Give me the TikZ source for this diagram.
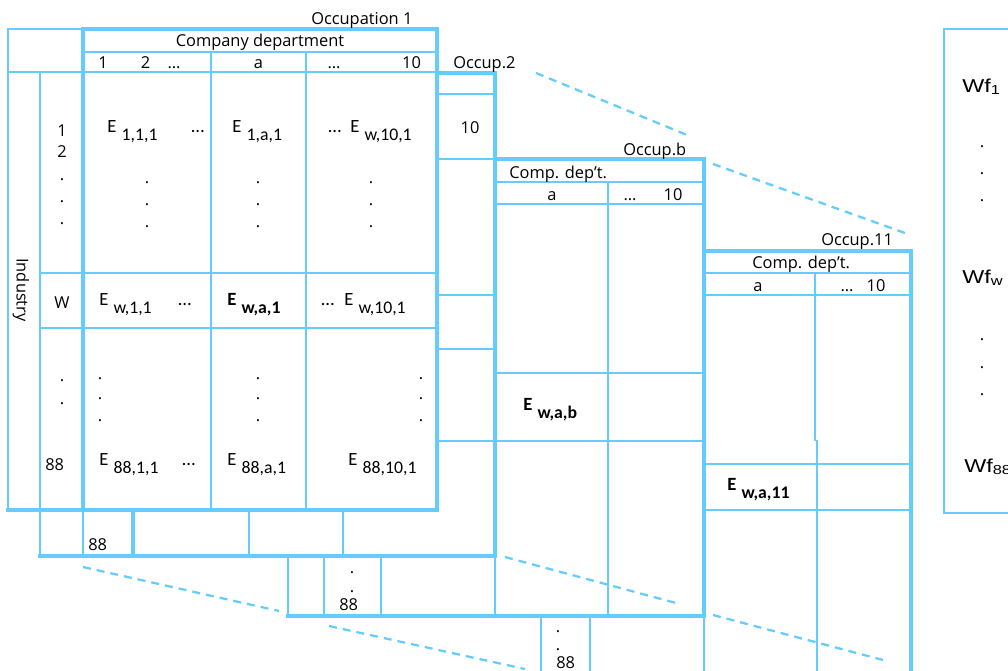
\documentclass[tikz,border=0pt]{standalone}
\usepackage{fontspec}
\setmainfont{Open Sans}
\newfontfamily\efont{Carlito}
\newfontfamily\wffont{Liberation Sans}
\usepackage{graphicx}
\definecolor{lb}{HTML}{66CCFF}
\newcommand\labf{\fontsize{12.3}{14}\selectfont}
\newcommand\entf{\efont\fontsize{14}{16}\selectfont}
\newcommand\ent[1]{E\hspace{4pt}\raisebox{-6pt}{\fontsize{13.3}{15}\selectfont #1}}
\tikzset{
  tk/.style={draw=lb, line width=2.8pt, line cap=rect},
  tn/.style={draw=lb, line width=1.5pt},
  md/.style={draw=lb, line width=1.9pt},
  dsh/.style={draw=lb, line width=1.7pt, dash pattern=on 6pt off 4.5pt},
  lab/.style={inner sep=0pt, font=\labf, anchor=base west},
  labc/.style={inner sep=0pt, font=\labf, anchor=base},
  en/.style={inner sep=0pt, font=\entf, anchor=base west},
  dot/.style={inner sep=0pt, font=\labf, anchor=base},
  wf/.style={inner sep=0pt, font=\wffont\fontsize{14}{16}\selectfont, anchor=base west},
}
\begin{document}
\begin{tikzpicture}[x=0.75pt,y=-0.75pt]
\useasboundingbox (0,0) rectangle (1008,671);
\clip (0,0) rectangle (1008,671);
% ---------- Occupation 11 (back) ----------
\draw[tn] (704,273) -- (911,273);
\draw[tn] (704,295) -- (911,295);
\draw[tn] (704,464) -- (911,464);
\draw[tn] (704,510) -- (911,510);
\draw[tn] (815,273) -- (815,441);
\draw[tn] (817,440) -- (817,680);
\draw[tn] (704,616) -- (704,680);
\draw[tn] (541,616) -- (541,680);
\draw[tn] (590,616) -- (590,680);
\draw[tk] (704,251) -- (911,251) -- (911,680);
% ---------- Occupation b ----------
\draw[tn] (495,182) -- (704,182);
\draw[tn] (495,204) -- (704,204);
\draw[tn] (495,373) -- (704,373);
\draw[tn] (495,441) -- (704,441);
\draw[tn] (608,182) -- (608,616);
\draw[tn] (288,556) -- (288,616);
\draw[tn] (324,556) -- (324,616);
\draw[tn] (381,556) -- (381,616);
\draw[tn] (495,556) -- (495,616);
\draw[tk] (495,159) -- (704,159) -- (704,616) -- (288,616);
% ---------- Occupation 2 ----------
\draw[tn] (437,94) -- (495,94);
\draw[tn] (437,159) -- (495,159);
\draw[tn] (437,295) -- (495,295);
\draw[tn] (437,349) -- (495,349);
\draw[tn] (437,441) -- (495,441);
\draw[tn] (40,510) -- (40,556);
\draw[tn] (83,510) -- (83,556);
\draw[tn] (249,510) -- (249,556);
\draw[tn] (343,510) -- (343,556);
\draw[tk] (133,510) -- (133,556);
\draw[tk] (437,73) -- (495,73) -- (495,556) -- (40,556);
% ---------- Occupation 1 (front) ----------
\draw[md] (8,510) -- (8,29) -- (83,29);
\draw[md] (8,72) -- (437,72);
\draw[tn] (40,72) -- (40,510);
\draw[tn] (83,52) -- (437,52);
\draw[tn] (211,52) -- (211,510);
\draw[tn] (306,52) -- (306,510);
\draw[tn] (40,273) -- (437,273);
\draw[tn] (40,328) -- (437,328);
\draw[tk] (83,510) -- (83,29) -- (437,29) -- (437,510) -- (8,510);
% ---------- Wf box ----------
\draw[tn] (1030,513) -- (944,513) -- (944,29) -- (1030,29);
% ---------- dashed perspective lines ----------
\coordinate (d1a) at (536,73);  \coordinate (d1b) at (687,135);
\coordinate (d2a) at (713,164); \coordinate (d2b) at (905,233);
\coordinate (d3a) at (83,567);  \coordinate (d3b) at (279,611);
\coordinate (d4a) at (329,626); \coordinate (d4b) at (525,669);
\coordinate (d5a) at (505,557); \coordinate (d5b) at (676,603);
\coordinate (d6a) at (713,615); \coordinate (d6b) at (883,660);
\draw[dsh] (d1a) -- (d1b);
\draw[dsh] (d2a) -- (d2b);
\draw[dsh] (d3a) -- (d3b);
\draw[dsh] (d4a) -- (d4b);
\draw[dsh] (d5a) -- (d5b);
\draw[dsh] (d6a) -- (d6b);
% ---------- labels Occupation 1 ----------
\node[lab] (occ1) at (311,24) {Occupation 1};
\node[labc] (cdep) at (260,46.5) {Company department};
\node[labc] (h1) at (103,68) {1};
\node[labc] (h2) at (145.5,68) {2};
\node[labc] (h3) at (174,68) {…};
\node[labc] (ha) at (258.5,68) {a};
\node[labc] (h4) at (334,68) {…};
\node[labc] (h10) at (411.5,68) {10};
\node[inner sep=0pt, font=\labf, rotate=-90] (ind) at (21,290) {Industry};
\node[labc] (r1) at (62,136) {1};
\node[labc] (r2) at (62,157) {2};
\node[dot] (rd1) at (62,180) {.};
\node[dot] (rd2) at (62,202) {.};
\node[dot] (rd3) at (62,224) {.};
\node[labc] (rw) at (62,308) {W};
\node[dot] (rd4) at (62,381) {.};
\node[dot] (rd5) at (62,404) {.};
\node[lab] (r88) at (45,470) {88};
% entries row 1
\node[en] (e111) at (107,132) {\ent{1,1,1}};
\node[en] (e1d) at (191,132) {…};
\node[en] (e1a1) at (232,132) {\ent{1,a,1}};
\node[en] (e1d2) at (328,132) {…};
\node[en] (e1w) at (350,132) {\ent{w,10,1}};
\foreach \xx/\nm in {147/a,258/b,371/c}{
  \node[dot] (cd1\nm) at (\xx,183) {.};
  \node[dot] (cd2\nm) at (\xx,205) {.};
  \node[dot] (cd3\nm) at (\xx,227) {.};
}
% row W
\node[en] (ew11) at (99,305) {\ent{w,1,1}};
\node[en] (ewd) at (178,305) {…};
\node[en] (ewa1) at (227,305) {\bfseries\ent{w,a,1}};
\node[en] (ewd2) at (321,305) {…};
\node[en] (ew101) at (344,305) {\ent{w,10,1}};
\foreach \xx/\nm in {100/a,258/b,421/c}{
  \node[dot] (ld1\nm) at (\xx,379) {.};
  \node[dot] (ld2\nm) at (\xx,399) {.};
  \node[dot] (ld3\nm) at (\xx,421) {.};
}
% row 88
\node[en] (e8811) at (99,465) {\ent{88,1,1}};
\node[en] (e88d) at (182,465) {…};
\node[en] (e88a1) at (227,465) {\ent{88,a,1}};
\node[en] (e88101) at (348,465) {\ent{88,10,1}};
% ---------- Occupation 2 ----------
\node[lab] (occ2) at (453,68) {Occup.2};
\node[labc] (o2ten) at (470,133) {10};
\node[lab] (o2b88) at (88,550) {88};
% ---------- Occupation b ----------
\node[lab] (occb) at (623,155) {Occup.b};
\node[lab] (cdb) at (509,178) {Comp. dep’t.};
\node[labc] (hba) at (552,200) {a};
\node[labc] (hbd) at (630,200) {…};
\node[labc] (hb10) at (673,200) {10};
\node[en] (ewab) at (523,410) {\bfseries\ent{w,a,b}};
\node[dot] (bd1) at (352,573) {.};
\node[dot] (bd2) at (352,592) {.};
\node[lab] (b88) at (339,610) {88};
% ---------- Occupation 11 ----------
\node[lab] (occ11) at (821,245) {Occup.11};
\node[lab] (cd11) at (752,268) {Comp. dep’t.};
\node[labc] (h11a) at (758,291) {a};
\node[labc] (h11d) at (847,291) {…};
\node[labc] (h1110) at (876,291) {10};
\node[en] (ewa11) at (727,490) {\bfseries\ent{w,a,11}};
\node[dot] (ed1) at (558,632) {.};
\node[dot] (ed2) at (558,650) {.};
\node[lab] (e88) at (556,668.5) {88};
% ---------- Wf column ----------
\node[wf] (wf1) at (962,92) {\scalebox{1.25}[1]{Wf\textsubscript{1}}};
\node[wf] (wfw) at (962,283) {\scalebox{1.25}[1]{Wf\textsubscript{w}}};
\node[wf] (wf88) at (964,472) {\scalebox{1.25}[1]{Wf\textsubscript{88}}};
\foreach \yy/\nm in {147/a,174/b,201/c,340/d,368/e,395/f}{
  \node[dot] (wd\nm) at (982,\yy) {.};
}
\end{tikzpicture}
\end{document}
